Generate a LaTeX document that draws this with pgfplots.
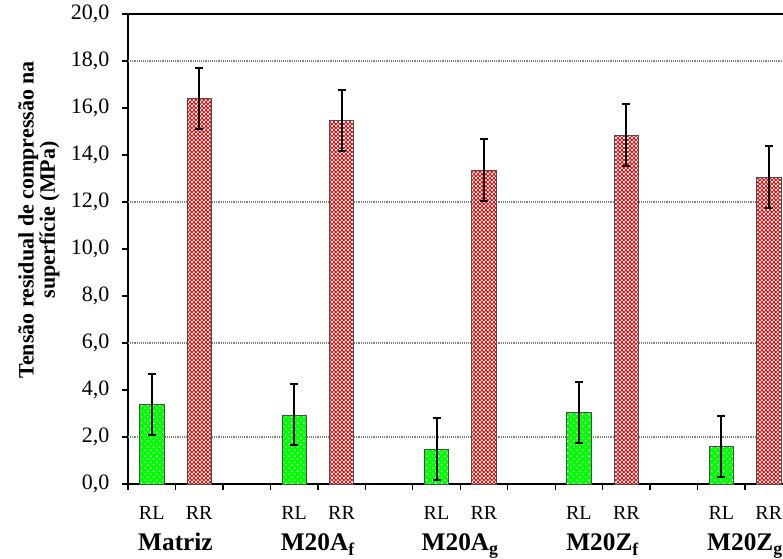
\documentclass[border=0pt]{standalone}
\usepackage{pgfplots}
\pgfplotsset{compat=1.18}
\usepackage{fontspec}
\setmainfont{Liberation Serif}
\usetikzlibrary{patterns}
\definecolor{brgreen}{RGB}{0,255,0}
\definecolor{brred}{RGB}{255,0,0}
\newcommand{\gl}{\bfseries\fontsize{19}{21}\selectfont}
\newcommand{\sublab}{\fontsize{15}{17}\selectfont}
\pgfdeclarepatternformonly{gdots}{\pgfqpoint{-1pt}{-1pt}}{\pgfqpoint{5.5pt}{5.5pt}}{\pgfqpoint{4.5pt}{4.5pt}}{%
  \pgfpathrectangle{\pgfqpoint{0pt}{0pt}}{\pgfqpoint{1.1pt}{1.1pt}}%
  \pgfpathrectangle{\pgfqpoint{2.25pt}{2.25pt}}{\pgfqpoint{1.1pt}{1.1pt}}%
  \pgfusepath{fill}}
\pgfdeclarepatternformonly{checker}{\pgfqpoint{0pt}{0pt}}{\pgfqpoint{3.2pt}{3.2pt}}{\pgfqpoint{3.2pt}{3.2pt}}{%
  \pgfpathrectangle{\pgfqpoint{0pt}{0pt}}{\pgfqpoint{1.6pt}{1.6pt}}%
  \pgfpathrectangle{\pgfqpoint{1.6pt}{1.6pt}}{\pgfqpoint{1.6pt}{1.6pt}}%
  \pgfusepath{fill}}
\pgfplotstableread{
x y e
0 3.40 1.30
3 2.94 1.30
6 1.49 1.30
9 3.06 1.30
12 1.60 1.30
}\RL
\pgfplotstableread{
x y e
1 16.40 1.30
4 15.46 1.30
7 13.36 1.32
10 14.85 1.30
13 13.06 1.32
}\RR
\begin{document}
\begin{tikzpicture}
\begin{axis}[
  name=ax,
  width=491.25pt, height=352.5pt, scale only axis,
  xmin=-0.5, xmax=13.30, ymin=0, ymax=20,
  axis x line*=bottom, axis y line*=left,
  axis line style={line width=1pt},
  tick style={line width=1pt, black},
  tick align=outside, major tick length=4.5pt,
  ytick={0,2,...,20},
  /pgf/number format/.cd, fixed, fixed zerofill, precision=1, use comma, assume math mode=true,
  /pgfplots/.cd,
  yticklabel style={font=\fontsize{16.5}{18}\selectfont, xshift=-6pt},
  xtick={-0.5,0.5,...,12.5},
  xticklabels={{},{\gl Matriz},{},{},{\gl M20A\textsubscript{f}},{},{},{\gl M20A\textsubscript{g}},{},{},{\gl M20Z\textsubscript{f}},{},{},{\gl M20Z\textsubscript{g}}},
  xticklabel style={anchor=base, yshift=-45.75pt},
  extra x ticks={0,1,3,4,6,7,9,10,12,13},
  extra x tick labels={\sublab RL,\sublab RR,\sublab RL,\sublab RR,\sublab RL,\sublab RR,\sublab RL,\sublab RR,\sublab RL,\sublab RR},
  extra x tick style={major tick length=0pt, tick label style={yshift=18.75pt}},
  extra y ticks={2,6,12,18},
  extra y tick labels={},
  extra y tick style={ymajorgrids=true, major tick length=0pt, major grid style={densely dotted, gray, line width=0.8pt}},
  ylabel={Tensão residual de compressão na\\[-2pt]superfície (MPa)},
  ylabel style={font=\bfseries\fontsize{16.5}{18}\selectfont, align=center, at={(axis description cs:-0.136,0.562)}, anchor=center},
  ybar, bar width=18.3pt, bar shift=0pt,
  clip=false,
]
\addplot[draw=black!70, line width=0.6pt, fill=brgreen, postaction={pattern=gdots, pattern color=white},
  error bars/.cd, y dir=both, y explicit, error bar style={line width=1.5pt, black}, error mark options={rotate=90, line width=1.5pt, black, mark size=3pt}]
  table[x=x, y=y, y error=e]{\RL};
\addplot[draw=black!70, line width=0.6pt, fill=brred, postaction={pattern=checker, pattern color=white},
  error bars/.cd, y dir=both, y explicit, error bar style={line width=1.5pt, black}, error mark options={rotate=90, line width=1.5pt, black, mark size=3pt}]
  table[x=x, y=y, y error=e]{\RR};
\draw[line width=1pt] (rel axis cs:0,1) -- (rel axis cs:1,1);
\end{axis}
\pgfresetboundingbox
\path ([xshift=-96pt,yshift=-56.25pt]ax.south west) rectangle ([yshift=10.5pt]ax.north east);
\end{tikzpicture}
\end{document}
